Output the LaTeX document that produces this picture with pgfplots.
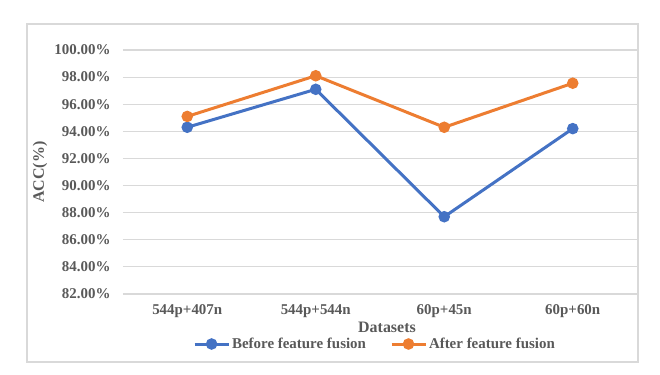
\documentclass[border=0pt]{standalone}
\usepackage{fontspec}
\setmainfont{Liberation Serif}
\usepackage{pgfplots}
\pgfplotsset{compat=1.18}
\definecolor{cblue}{HTML}{4472C4}
\definecolor{corange}{HTML}{ED7D31}
\definecolor{gridc}{HTML}{D9D9D9}
\definecolor{txt}{HTML}{595959}
\begin{document}
\begin{tikzpicture}
\path (-123bp,-81bp) rectangle (537bp,294bp);
\draw[gridc, line width=1.2bp] (-96bp,-68bp) rectangle (515bp,270bp);
\begin{axis}[
  at={(0,0)}, anchor=south west,
  scale only axis, width=514bp, height=244bp,
  xmin=-0.5, xmax=3.5, ymin=82, ymax=100,
  xtick={0,1,2,3},
  xticklabels={544p+407n,544p+544n,60p+45n,60p+60n},
  ytick={82,84,...,100},
  ymajorgrids, major grid style={gridc, line width=1.2bp},
  axis line style={draw=none},
  major tick length=0pt,
  /pgf/number format/assume math mode=true,
  tick label style={font=\fontsize{15}{17}\selectfont\bfseries, text=txt},
  yticklabel={\pgfmathprintnumber[fixed,fixed zerofill,precision=2]{\tick}\%},
  yticklabel style={xshift=-9bp},
  xticklabel style={yshift=-7bp},
  xlabel={Datasets}, ylabel={ACC(\%)},
  label style={font=\fontsize{16}{18}\selectfont\bfseries, text=txt},
  xlabel style={at={(axis description cs:0.5,0)}, anchor=center, yshift=-33bp, xshift=7bp},
  ylabel style={at={(axis description cs:0,0.5)}, anchor=center, yshift=83bp},
  legend style={at={(0.5,0)}, anchor=center, yshift=-50bp, xshift=-5bp, draw=none, fill=none,
    font=\fontsize{15}{17}\selectfont\bfseries, text=txt,
    legend columns=2, /tikz/every even column/.append style={column sep=22bp}},
  legend cell align=left,
  legend image code/.code={\draw[mark repeat=2,mark phase=2,#1] plot coordinates {(0bp,0bp) (17bp,0bp) (34bp,0bp)};},
  every axis plot/.append style={line width=3bp, mark=*, mark size=4.2bp},
]
\addplot[cblue, mark options={fill=cblue, draw=cblue}] coordinates {
(0,94.3) (1,97.1) (2,87.7) (3,94.2)
};
\addlegendentry{Before feature fusion}
\addplot[corange, mark options={fill=corange, draw=corange}] coordinates {
(0,95.1) (1,98.1) (2,94.3) (3,97.55)
};
\addlegendentry{After feature fusion}
\end{axis}
\end{tikzpicture}
\end{document}
